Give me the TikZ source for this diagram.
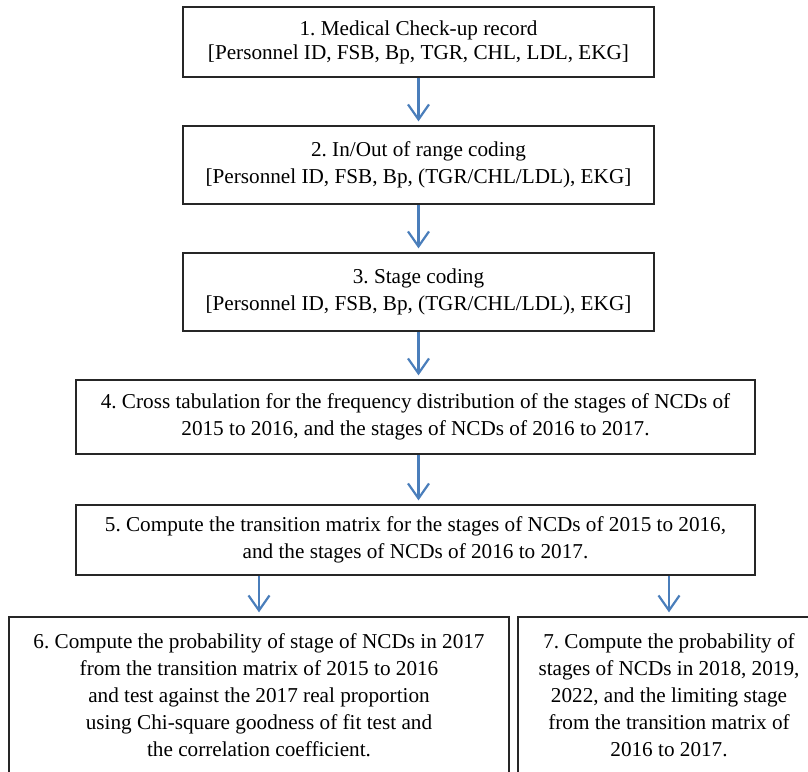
\documentclass[tikz,border=0pt]{standalone}
\usepackage{fontspec}
\setmainfont{Liberation Serif}
\usetikzlibrary{arrows.meta, positioning}
\definecolor{flowblue}{RGB}{74,126,187}
\frenchspacing

\begin{document}
\begin{tikzpicture}
      [
        x=1pt, y=-1pt,
        box/.style={draw=black!85, line width=1.3pt, align=center, inner sep=0pt,
          font=\fontsize{21.2}{27}\selectfont},
        flow/.style={flowblue, line width=2.2pt,
          -{Straight Barb[length=15pt,width=21pt]}, shorten >=4pt}
      ]
      \clip (0,0) rectangle (808,771);
      % steps 1-3
      \node [box, minimum width=471, minimum height=70,
        font=\fontsize{21.2}{24}\selectfont] (rec) at (418.5,42)
        {1. Medical Check-up record\\{}[Personnel ID, FSB, Bp, TGR, CHL, LDL, EKG]};
      \node [box, minimum width=471, minimum height=78] (inout) at (418.5,165)
        {2. In/Out of range coding\\{}[Personnel ID, FSB, Bp, (TGR/CHL/LDL), EKG]};
      \node [box, minimum width=471, minimum height=78] (stage) at (418.5,292)
        {3. Stage coding\\{}[Personnel ID, FSB, Bp, (TGR/CHL/LDL), EKG]};
      % steps 4-5
      \node [box, minimum width=679, minimum height=74] (cross) at (415.5,417)
        {4. Cross tabulation for the frequency distribution of the stages of NCDs of\\
         2015 to 2016, and the stages of NCDs of 2016 to 2017.};
      \node [box, minimum width=679, minimum height=70] (trans) at (415.5,540)
        {5. Compute the transition matrix for the stages of NCDs of 2015 to 2016,\\
         and the stages of NCDs of 2016 to 2017.};
      % steps 6-7
      \node [box, minimum width=500, minimum height=156] (test17) at (259,695)
        {6. Compute the probability of stage of NCDs in 2017\\
         from the transition matrix of 2015 to 2016\\
         and test against the 2017 real proportion\\
         using Chi-square goodness of fit test and\\
         the correlation coefficient.};
      \node [box, minimum width=302, minimum height=156] (limit) at (669,695)
        {7. Compute the probability of\\
         stages of NCDs in 2018, 2019,\\
         2022, and the limiting stage\\
         from the transition matrix of\\
         2016 to 2017.};
      % arrows
      \draw [flow] (rec) -- (inout);
      \draw [flow] (inout) -- (stage);
      \draw [flow] (stage.south) -- (stage.south |- cross.north);
      \draw [flow] (stage.south |- cross.south) -- (stage.south |- trans.north);
      \draw [flow] (test17.north |- trans.south) -- (test17.north);
      \draw [flow] (limit.north |- trans.south) -- (limit.north);
\end{tikzpicture}
\end{document}
